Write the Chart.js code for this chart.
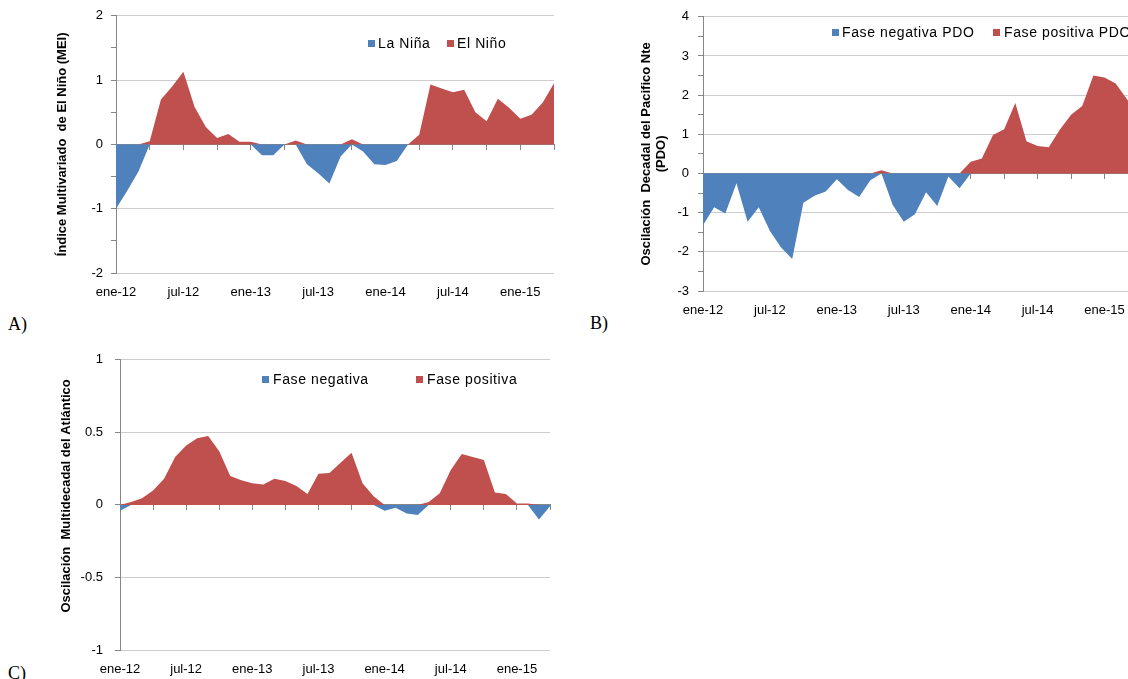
<!DOCTYPE html>
<html>
<head>
<meta charset="utf-8">
<script src="https://cdn.jsdelivr.net/npm/chart.js@4.4.0/dist/chart.umd.min.js"></script>
<style>
  html, body { margin: 0; padding: 0; background: #fff; width: 1128px; height: 679px; overflow: hidden; }
  body { position: relative; }
  .panel { position: absolute; }
  .tag { position: absolute; font-family: 'Liberation Serif', 'Times New Roman', serif; font-size: 18px; line-height: 18px; color: #000; }
  .leg { position: absolute; font-family: 'Liberation Sans', Arial, sans-serif; font-size: 14px; line-height: 16px; color: #000; white-space: nowrap; letter-spacing: 0.6px; }
  .sq { position: absolute; width: 7px; height: 7px; }
</style>
</head>
<body>

<!-- widths include 12px that chart.js keeps free on the right for the bottom labels -->
<div class="panel" style="left:40px; top:0px; width:526px; height:310px;"><canvas id="chartA"></canvas></div>
<div class="panel" style="left:620px; top:0px; width:530px; height:330px;"><canvas id="chartB"></canvas></div>
<div class="panel" style="left:40px; top:340px; width:522px; height:340px;"><canvas id="chartC"></canvas></div>

<div class="tag" style="left:8px; top:315px;">A)</div>
<div class="tag" style="left:590px; top:314px;">B)</div>
<div class="tag" style="left:8px; top:664px;">C)</div>

<script>
// monthly values, ene-12 .. abr-15
const mei = [-1.00, -0.72, -0.42, 0.05, 0.70, 0.90, 1.13, 0.58, 0.27, 0.10, 0.16, 0.04,
             0.04, -0.17, -0.17, 0.00, 0.06, -0.31, -0.45, -0.61, -0.19, 0.08, -0.11, -0.31,
             -0.32, -0.26, 0.00, 0.15, 0.93, 0.87, 0.81, 0.85, 0.50, 0.36, 0.71, 0.57,
             0.40, 0.46, 0.65, 0.95];
const pdo = [-1.32, -0.86, -1.02, -0.25, -1.23, -0.86, -1.47, -1.89, -2.18, -0.75, -0.57, -0.46,
             -0.15, -0.42, -0.60, -0.17, 0.08, -0.80, -1.23, -1.04, -0.48, -0.83, -0.08, -0.38,
             0.30, 0.38, 0.98, 1.13, 1.80, 0.82, 0.70, 0.67, 1.12, 1.50, 1.72, 2.50,
             2.45, 2.30, 1.90, 1.50];
const amo = [-0.04, 0.02, 0.045, 0.10, 0.18, 0.33, 0.41, 0.46, 0.475, 0.37, 0.20, 0.17,
             0.15, 0.14, 0.18, 0.165, 0.13, 0.075, 0.215, 0.22, 0.29, 0.36, 0.15, 0.06,
             -0.04, -0.02, -0.06, -0.07, 0.02, 0.08, 0.24, 0.35, 0.33, 0.31, 0.085, 0.075,
             0.01, 0.01, -0.10, -0.01];

const monthNames = ['ene', 'feb', 'mar', 'abr', 'may', 'jun', 'jul', 'ago', 'sep', 'oct', 'nov', 'dic'];
const years = ['12', '13', '14', '15'];
const months = [];
years.forEach(y => monthNames.forEach(m => months.push(m + '-' + y)));
months.length = mei.length;

const BLUE = '#4F81BD';
const RED = '#C0504D';
const AXIS = '#868686';
const GRID = '#CDCDCD';

Chart.defaults.font.family = "'Liberation Sans', Arial, sans-serif";

function drawPanel(id, values, cfg) {
  const neg = values.map(v => Math.min(v, 0));
  const pos = values.map(v => Math.max(v, 0));
  const isMajor = v => Math.abs(v / cfg.major - Math.round(v / cfg.major)) < 1e-9;

  return new Chart(document.getElementById(id), {
    type: 'line',
    data: {
      labels: months,
      datasets: [
        { label: cfg.names[0], data: neg, backgroundColor: BLUE, borderColor: 'transparent', borderWidth: 0, fill: 'origin', pointRadius: 0, tension: 0 },
        { label: cfg.names[1], data: pos, backgroundColor: RED, borderColor: 'transparent', borderWidth: 0, fill: 'origin', pointRadius: 0, tension: 0 }
      ]
    },
    options: {
      animation: false,
      responsive: true,
      maintainAspectRatio: false,
      layout: { padding: { top: cfg.top, left: 0, right: 0, bottom: 0 } },
      plugins: { legend: { display: false }, tooltip: { enabled: false } },
      scales: {
        // horizontal axis drawn on the zero line, tick every 3 months
        x: {
          type: 'category',
          axis: 'x',
          position: { y: 0 },
          offset: false,
          z: 1,
          border: { color: AXIS, width: 1 },
          grid: {
            drawOnChartArea: false,
            tickLength: 5,
            tickColor: ctx => ctx.index % 3 === 0 ? AXIS : 'transparent'
          },
          ticks: { display: false }
        },
        // labels at the bottom of the plot
        x2: {
          type: 'category',
          position: 'bottom',
          offset: false,
          afterFit: s => { s.height = cfg.xHeight; },
          border: { display: false },
          grid: { display: false, drawTicks: false },
          ticks: {
            autoSkip: false, maxRotation: 0, minRotation: 0,
            padding: 12, color: '#000', font: { size: 13 },
            callback: (v, i) => i % 6 === 0 ? months[i] : ''
          }
        },
        y: {
          min: cfg.min,
          max: cfg.max,
          afterFit: s => { s.width = cfg.yWidth; },
          border: { color: AXIS },
          grid: {
            color: ctx => ctx.tick && isMajor(ctx.tick.value) ? GRID : 'transparent',
            tickColor: ctx => cfg.minorTicks || (ctx.tick && isMajor(ctx.tick.value)) ? AXIS : 'transparent',
            tickLength: 5
          },
          ticks: {
            stepSize: 0.5, autoSkip: false,
            padding: cfg.tickPad, color: '#000', font: { size: 13 },
            callback: v => isMajor(v) ? String(v) : ''
          },
          title: {
            display: true,
            text: cfg.title,
            color: '#000',
            font: { size: 13, weight: 'bold', lineHeight: cfg.titleLH },
            padding: { top: cfg.titlePad, bottom: 0 }
          }
        }
      }
    }
  });
}

function addLegend(sqX, txX, yc, color, text) {
  const sq = document.createElement('div');
  sq.className = 'sq';
  sq.style.left = sqX + 'px';
  sq.style.top = (yc - 3.5) + 'px';
  sq.style.background = color;
  document.body.appendChild(sq);
  const t = document.createElement('div');
  t.className = 'leg';
  t.style.left = txX + 'px';
  t.style.top = (yc - 8) + 'px';
  t.textContent = text;
  document.body.appendChild(t);
}

drawPanel('chartA', mei, {
  names: ['La Niña', 'El Niño'],
  min: -2, max: 2, major: 1, minorTicks: true,
  top: 12, yWidth: 76, xHeight: 37, tickPad: 8,
  title: 'Índice Multivariado  de El Niño (MEI)', titlePad: 15, titleLH: 1.2
});
drawPanel('chartB', pdo, {
  names: ['Fase negativa PDO', 'Fase positiva PDO'],
  min: -3, max: 4, major: 1, minorTicks: true,
  top: 13, yWidth: 83, xHeight: 39, tickPad: 9,
  title: ['Oscilación  Decadal del Pacifico Nte', '(PDO)'], titlePad: 19, titleLH: 15 / 13
});
drawPanel('chartC', amo, {
  names: ['Fase negativa', 'Fase positiva'],
  min: -1, max: 1, major: 0.5, minorTicks: false,
  top: 16, yWidth: 80, xHeight: 30, tickPad: 12,
  // leading spaces push the title up a little, as in the original
  title: '     Oscilación  Multidecadal del Atlántico', titlePad: 19, titleLH: 1.2
});

addLegend(368, 378, 43, BLUE, 'La Niña');
addLegend(447, 457, 43, RED, 'El Niño');
addLegend(832, 842, 32, BLUE, 'Fase negativa PDO');
addLegend(993, 1004, 32, RED, 'Fase positiva PDO');
addLegend(262, 273, 379, BLUE, 'Fase negativa');
addLegend(416, 427, 379, RED, 'Fase positiva');
</script>
</body>
</html>
